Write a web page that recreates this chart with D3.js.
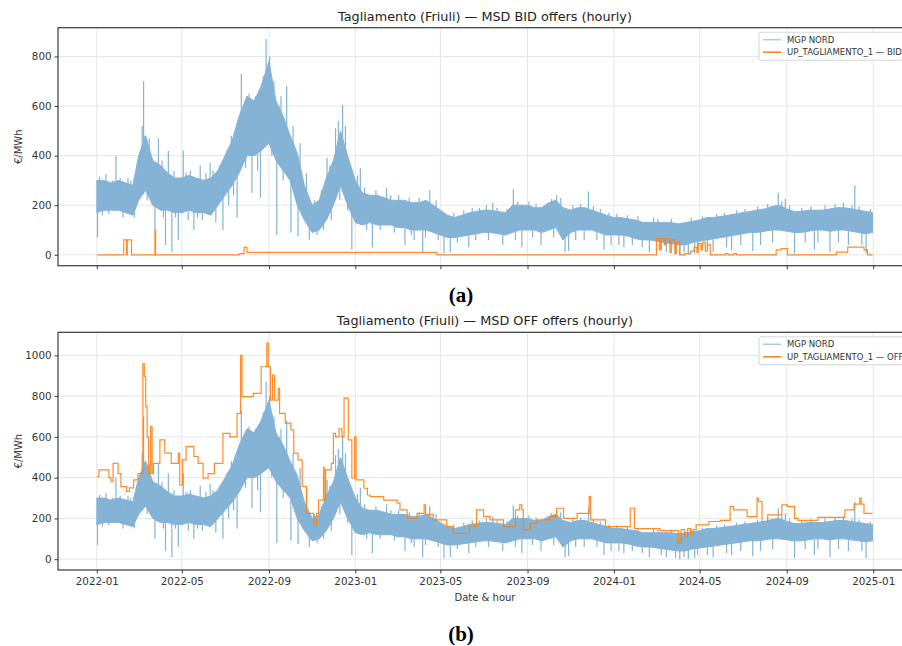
<!DOCTYPE html>
<html>
<head>
<meta charset="utf-8">
<script src="https://cdn.jsdelivr.net/npm/d3@7"></script>
<style>
  body { margin: 0; background: #fff; }
  svg { font-family: "DejaVu Sans", sans-serif; }
</style>
</head>
<body>
<svg id="chart" width="902" height="646"></svg>
<script>
//MGP NORD hourly price, read as a low / high envelope every ~10 days
var mgpDates = [
  "22-01-01","22-01-11","22-01-21","22-02-01","22-02-11","22-02-21","22-03-01","22-03-11","22-03-21",
  "22-04-01","22-04-11","22-04-21","22-05-01","22-05-11","22-05-21","22-06-01","22-06-11","22-06-21",
  "22-07-01","22-07-11","22-07-21","22-08-01","22-08-11","22-08-21","22-09-01","22-09-11","22-09-21",
  "22-10-01","22-10-11","22-10-21","22-11-01","22-11-11","22-11-21","22-12-01","22-12-11","22-12-21",
  "23-01-01","23-01-11","23-01-21","23-02-01","23-02-11","23-02-21","23-03-01","23-03-11","23-03-21",
  "23-04-01","23-04-11","23-04-21","23-05-01","23-05-11","23-05-21","23-06-01","23-06-11","23-06-21",
  "23-07-01","23-07-11","23-07-21","23-08-01","23-08-11","23-08-21","23-09-01","23-09-11","23-09-21",
  "23-10-01","23-10-11","23-10-21","23-11-01","23-11-11","23-11-21","23-12-01","23-12-11","23-12-21",
  "24-01-01","24-01-11","24-01-21","24-02-01","24-02-11","24-02-21","24-03-01","24-03-11","24-03-21",
  "24-04-01","24-04-11","24-04-21","24-05-01","24-05-11","24-05-21","24-06-01","24-06-11","24-06-21",
  "24-07-01","24-07-11","24-07-21","24-08-01","24-08-11","24-08-21","24-09-01","24-09-11","24-09-21",
  "24-10-01","24-10-11","24-10-21","24-11-01","24-11-11","24-11-21","24-12-01","24-12-11","24-12-21",
  "24-12-31"
];
var mgpLow = [
  170,180,180, 180,170,160, 220,260,200, 180,180,170, 170,180,170, 170,160,200,
  240,280,330, 400,400,420, 450,380,340, 300,200,140, 90,100,140, 200,280,200,
  130,120,130, 120,120,120, 110,110,100, 100,100,90, 80,70,70, 75,80,85,
  90,90,85, 80,90,100, 100,100,90, 100,110,60, 90,100,100, 100,90,80,
  80,80,75, 65,60,60, 55,50,45, 40,40,50, 55,60,65, 70,75,80,
  85,90,90, 95,100,100, 95,90,90, 95,100,100, 95,100,100, 95,90,85,
  90
];
var mgpHigh = [
  300,300,290, 300,290,280, 400,480,380, 360,330,310, 310,320,310, 300,310,340,
  400,460,560, 640,620,680, 780,620,560, 480,410,280, 200,220,310, 380,500,400,
  300,250,240, 240,230,220, 220,220,210, 210,220,200, 180,160,150, 160,170,175,
  180,180,175, 170,200,200, 200,190,190, 210,220,190, 180,190,190, 180,170,160,
  150,150,145, 140,130,130, 130,130,130, 125,130,135, 140,150,150, 155,160,165,
  170,175,180, 185,195,200, 185,175,175, 180,180,180, 185,190,190, 185,180,175,
  170
];
//single hours that stick far out of the envelope
var spikeDates = [
  "22-01-02","22-01-28","22-02-14","22-03-08","22-03-16","22-03-24","22-03-29","22-04-08","22-04-12",
  "22-04-17","22-04-26","22-05-03","22-05-18","22-05-27","22-06-10","22-06-28","22-07-18","22-07-24",
  "22-08-04","22-08-08","22-08-20","22-08-28","22-09-08","22-09-12","22-09-18","22-09-26","22-10-02",
  "22-10-12","22-10-28","22-11-22","22-12-04","22-12-14","22-12-27","23-01-08","23-01-25","23-02-14",
  "23-03-12","23-03-25","23-04-06","23-04-16","23-05-06","23-05-15","23-06-10","23-07-14","23-07-28",
  "23-08-12","23-08-24","23-09-20","23-10-12","23-10-24","23-10-29","23-11-26","23-12-18","24-01-15",
  "24-02-20","24-03-15","24-03-28","24-04-03","24-04-15","24-04-24","24-05-20","24-06-15","24-07-15",
  "24-08-20","24-08-30","24-09-12","24-10-10","24-11-01","24-12-06","24-12-22"
];
var spikeValues = [
  70,400,310,700,470,100,470,40,420,
  10,60,420,100,360,370,100,150,730,
  650,250,230,870,700,80,640,680,90,
  75,60,390,510,605,20,350,30,270,
  40,60,10,260,5,10,30,210,40,
  265,30,40,240,10,15,255,20,30,
  10,10,5,0,0,5,10,20,15,
  250,225,5,20,10,280,5
];
//smaller day-to-day excursions around the envelope
var bumpDates = [
  "22-01-05","22-01-09","22-01-14","22-01-18","22-01-23","22-02-03","22-02-07","22-02-18","22-02-23",
  "22-02-26","22-03-04","22-03-06","22-03-10","22-03-13","22-03-20","22-04-03","22-04-05","22-04-20",
  "22-04-22","22-05-07","22-05-10","22-05-13","22-05-23","22-05-30","22-06-04","22-06-14","22-06-18",
  "22-06-23","22-07-03","22-07-06","22-07-10","22-07-13","22-07-28","22-07-30","22-08-13","22-08-16",
  "22-08-24","22-09-02","22-09-05","22-09-15","22-09-21","22-10-05","22-10-08","22-10-15","22-10-19",
  "22-10-24","22-11-04","22-11-08","22-11-14","22-11-17","22-11-26","22-11-28","22-12-08","22-12-10",
  "22-12-18","22-12-21",
  "23-01-04","23-01-14","23-01-17","23-01-30","23-02-05","23-02-20","23-02-25","23-03-03","23-03-18",
  "23-03-21","23-04-01","23-04-10","23-04-25","23-04-28","23-05-20","23-05-25","23-06-03","23-06-15",
  "23-06-20","23-06-25","23-07-05","23-07-08","23-07-20","23-08-03","23-08-15","23-08-18","23-09-03",
  "23-09-08","23-09-13","23-09-27","23-10-05","23-10-08","23-10-18","23-11-04","23-11-08","23-11-15",
  "23-11-20","23-12-03","23-12-08","23-12-13","23-12-25","23-12-28",
  "24-01-05","24-01-08","24-01-20","24-01-27","24-02-04","24-02-10","24-02-26","24-03-03","24-03-08",
  "24-03-22","24-04-09","24-04-19","24-04-28","24-05-05","24-05-12","24-05-25","24-06-05","24-06-08",
  "24-06-22","24-06-28","24-07-04","24-07-22","24-07-26","24-08-05","24-08-12","24-08-25","24-09-05",
  "24-09-22","24-09-27","24-10-05","24-10-15","24-10-25","24-11-08","24-11-13","24-11-20","24-11-27",
  "24-12-02","24-12-12","24-12-16","24-12-28"
];
var bumpValues = [
  315,160,325,165,300,310,150,300,150,
  330,420,520,480,220,390,380,150,340,
  150,330,140,340,150,140,330,340,130,
  360,420,200,480,240,600,350,640,340,
  720,800,400,600,300,520,250,450,150,
  330,220,80,260,100,360,140,540,220,
  520,180,
  320,270,100,260,100,240,90,240,230,
  80,230,70,220,60,170,50,180,190,
  60,190,200,60,190,185,60,215,215,
  70,205,200,225,70,230,200,60,205,
  60,195,60,185,170,40,
  165,40,160,40,155,30,150,145,20,
  145,10,150,20,155,20,165,170,30,
  180,40,185,195,40,205,50,215,200,
  190,50,195,50,200,205,50,210,40,
  200,195,40,185
];
//UP_TAGLIAMENTO_1 BID offer price (step changes)
var bidDates = [
  "22-01-01","22-02-08","22-02-12","22-02-13","22-02-19","22-03-24","22-03-25","22-07-21","22-07-28",
  "22-08-01","23-04-26","24-03-01","24-03-05","24-03-07","24-03-12","24-03-14","24-03-20","24-03-22",
  "24-03-27","24-03-29","24-04-03","24-04-10","24-04-18","24-04-23","24-04-27","24-04-29","24-05-03",
  "24-05-05","24-05-09","24-05-12","24-05-16","24-06-06","24-06-10","24-06-18","24-06-22","24-08-17",
  "24-08-24","24-09-02","24-11-10","24-11-26","24-12-19","24-12-24","24-12-31"
];
var bidValues = [
  0,60,0,60,0,100,0,5,30,
  10,0,65,20,65,40,65,10,60,
  5,50,0,5,15,30,10,45,20,
  50,15,40,0,5,0,5,0,20,
  25,0,11,31,20,0,0
];
//UP_TAGLIAMENTO_1 OFF offer price (step changes)
var offDates = [
  "22-01-01","22-01-04","22-01-18","22-01-21","22-01-24","22-01-31","22-02-04","22-02-12","22-02-16",
  "22-02-22","22-02-28","22-03-07","22-03-09","22-03-11","22-03-13","22-03-15","22-03-18","22-03-20",
  "22-03-22","22-03-31","22-04-07","22-04-16","22-04-26","22-04-28","22-05-02","22-05-07","22-05-18",
  "22-05-24","22-05-31","22-06-07","22-06-16","22-06-28","22-07-08","22-07-18","22-07-23","22-07-25",
  "22-08-10","22-08-21","22-08-29","22-08-31","22-09-03","22-09-06","22-09-09","22-09-14","22-09-16",
  "22-09-24","22-10-02","22-10-06","22-10-12","22-10-18","22-10-24","22-11-03","22-11-07","22-11-10",
  "22-11-17","22-11-18","22-11-20","22-11-28","22-12-01","22-12-04","22-12-09","22-12-13","22-12-16",
  "22-12-22","22-12-27","22-12-31","23-01-02","23-01-13","23-01-18","23-01-22","23-02-10","23-03-01",
  "23-03-05","23-03-15","23-03-29","23-04-08","23-04-10","23-04-21","23-05-10","23-05-19","23-06-11",
  "23-06-21","23-07-01","23-07-10","23-07-29","23-08-15","23-08-21","23-08-24","23-08-26","23-09-05",
  "23-09-14","23-10-03","23-10-12","23-10-22","23-11-10","23-11-27","23-11-29","23-12-20","24-01-24",
  "24-01-30","24-03-06","24-04-01","24-04-05","24-04-10","24-04-14","24-04-18","24-04-22","24-04-26",
  "24-05-14","24-05-30","24-06-13","24-06-18","24-07-07","24-07-21","24-07-23","24-07-28","24-08-05",
  "24-08-25","24-09-02","24-09-12","24-09-17","24-10-15","24-11-22","24-12-05","24-12-13","24-12-15",
  "24-12-19","24-12-31"
];
var offValues = [
  405,438,400,380,470,420,356,332,350,
  389,420,960,895,748,600,420,650,420,
  470,585,520,470,520,364,487,552,503,
  470,397,420,470,617,600,715,1000,797,
  813,944,1060,944,780,903,780,838,715,
  667,634,520,487,356,225,168,225,290,
  450,290,438,470,617,600,640,600,790,
  585,397,600,389,348,315,307,290,275,
  242,200,225,266,220,193,160,127,160,
  242,209,193,160,242,266,242,144,176,
  193,210,250,200,225,307,193,160,250,
  150,140,78,145,110,150,120,145,168,
  185,190,258,242,209,300,283,185,217,
  266,258,200,190,205,242,270,300,270,
  225,225
];
var yTicksTop = [0, 200, 400, 600, 800];
var yTicksBottom = [0, 200, 400, 600, 800, 1000];

//Colors
var blue = "#84b3d6";
var orange = "#ff7f0e";

var parseDate = d3.timeParse("%y-%m-%d");
var mgp = mgpDates.map(function (d, i) {
  return { date: parseDate(d), lo: mgpLow[i], hi: mgpHigh[i] };
});
var spikes = spikeDates
  .map(function (d, i) {
    return { date: parseDate(d), value: spikeValues[i] };
  })
  .concat(
    bumpDates.map(function (d, i) {
      return { date: parseDate(d), value: bumpValues[i] };
    })
  );
var bid = bidDates.map(function (d, i) {
  return { date: parseDate(d), value: bidValues[i] };
});
var off = offDates.map(function (d, i) {
  return { date: parseDate(d), value: offValues[i] };
});

var svg = d3.select("#chart");

//x scale with matplotlib-like 5% margins around the data range
var t0 = new Date(2022, 0, 1), t1 = new Date(2024, 11, 31, 23);
var pad = (t1 - t0) * 0.05;
var x = d3
  .scaleTime()
  .domain([new Date(+t0 - pad), new Date(+t1 + pad)])
  .range([58, 912]);

var panels = [
  {
    title: "Tagliamento (Friuli) \u2014 MSD BID offers (hourly)",
    top: 27.7, bottom: 265.7, domain: [-44, 916], ticks: yTicksTop,
    offer: bid, offerName: "UP_TAGLIAMENTO_1 \u2014 BID", xLabels: false,
    tag: "(a)", tagY: 302
  },
  {
    title: "Tagliamento (Friuli) \u2014 MSD OFF offers (hourly)",
    top: 332.3, bottom: 570, domain: [-53, 1113], ticks: yTicksBottom,
    offer: off, offerName: "UP_TAGLIAMENTO_1 \u2014 OFF", xLabels: true,
    tag: "(b)", tagY: 641
  }
];

var xTicks = d3.timeMonth.every(4).range(new Date(2022, 0, 1), new Date(2025, 0, 2));

panels.forEach(function (p, k) {
  var y = d3.scaleLinear().domain(p.domain).range([p.bottom, p.top]);
  var g = svg.append("g");

  //clip for the data
  svg
    .append("clipPath")
    .attr("id", "clip" + k)
    .append("rect")
    .attr("x", 58)
    .attr("y", p.top)
    .attr("width", 854)
    .attr("height", p.bottom - p.top);

  //grid
  g.selectAll(".gx")
    .data(xTicks)
    .enter()
    .append("line")
    .attr("x1", (d) => x(d))
    .attr("x2", (d) => x(d))
    .attr("y1", p.top)
    .attr("y2", p.bottom)
    .attr("stroke", "#e6e6e6")
    .attr("stroke-width", 1);
  g.selectAll(".gy")
    .data(p.ticks)
    .enter()
    .append("line")
    .attr("x1", 58)
    .attr("x2", 912)
    .attr("y1", (d) => y(d))
    .attr("y2", (d) => y(d))
    .attr("stroke", "#e6e6e6")
    .attr("stroke-width", 1);

  var plot = g.append("g").attr("clip-path", "url(#clip" + k + ")");

  //MGP NORD envelope
  var area = d3
    .area()
    .x((d) => x(d.date))
    .y0((d) => y(d.lo))
    .y1((d) => y(d.hi));
  plot
    .append("path")
    .datum(mgp)
    .attr("d", area)
    .attr("fill", blue)
    .attr("stroke", blue)
    .attr("stroke-width", 1)
    .attr("stroke-linejoin", "round");

  //hours going out of the envelope
  var bis = d3.bisector((d) => d.date).left;
  plot
    .selectAll(".spike")
    .data(spikes)
    .enter()
    .append("line")
    .attr("x1", (d) => x(d.date))
    .attr("x2", (d) => x(d.date))
    .attr("y1", function (d) {
      var i = Math.min(bis(mgp, d.date), mgp.length - 1);
      var m = mgp[i];
      return y(m.lo + (m.hi - m.lo) * 0.5);
    })
    .attr("y2", (d) => y(d.value))
    .attr("stroke", blue)
    .attr("stroke-width", 1.2);

  //offer line
  var line = d3
    .line()
    .x((d) => x(d.date))
    .y((d) => y(d.value))
    .curve(d3.curveStepAfter);
  plot
    .append("path")
    .datum(p.offer)
    .attr("d", line)
    .attr("fill", "none")
    .attr("stroke", orange)
    .attr("stroke-width", 1.2)
    .attr("opacity", 0.9);

  //frame
  g.append("rect")
    .attr("x", 58)
    .attr("y", p.top)
    .attr("width", 854)
    .attr("height", p.bottom - p.top)
    .attr("fill", "none")
    .attr("stroke", "#3a3a3a")
    .attr("stroke-width", 1.2);

  //y axis
  var ya = g
    .append("g")
    .attr("transform", "translate(58,0)")
    .call(
      d3
        .axisLeft(y)
        .tickValues(p.ticks)
        .tickFormat(d3.format("d"))
        .tickSize(3.5)
        .tickPadding(3)
    );
  ya.select(".domain").remove();
  ya.selectAll("line").attr("stroke", "#3a3a3a");
  ya.selectAll("text").attr("fill", "#333").style("font-size", "10.3px").style("font-family", "DejaVu Sans");

  //x axis
  var xa = g
    .append("g")
    .attr("transform", "translate(0," + p.bottom + ")")
    .call(
      d3
        .axisBottom(x)
        .tickValues(xTicks)
        .tickSize(3.5)
        .tickPadding(4)
        .tickFormat(p.xLabels ? d3.timeFormat("%Y-%m") : "")
    );
  xa.select(".domain").remove();
  xa.selectAll("line").attr("stroke", "#3a3a3a");
  xa.selectAll("text").attr("fill", "#333").style("font-size", "10.3px").style("font-family", "DejaVu Sans");

  //titles
  svg
    .append("text")
    .attr("x", 485)
    .attr("y", p.top - 7)
    .attr("text-anchor", "middle")
    .style("font-size", "12.8px")
    .attr("fill", "#222")
    .text(p.title);

  svg
    .append("text")
    .attr("transform", "translate(22," + (p.top + p.bottom) / 2 + ") rotate(-90)")
    .attr("text-anchor", "middle")
    .style("font-size", "10px")
    .attr("fill", "#333")
    .text("\u20ac/MWh");

  //legend
  var lg = svg.append("g").attr("transform", "translate(759," + (p.top + 4.5) + ")");
  lg.append("rect")
    .attr("width", 170)
    .attr("height", 28)
    .attr("rx", 2)
    .attr("fill", "#fff")
    .attr("fill-opacity", 0.85)
    .attr("stroke", "#d6d6d6");
  var entries = [
    { name: "MGP NORD", color: "#a9cbe4" },
    { name: p.offerName, color: orange }
  ];
  entries.forEach(function (e, i) {
    lg.append("line")
      .attr("x1", 4)
      .attr("x2", 22)
      .attr("y1", 7.5 + i * 12.5)
      .attr("y2", 7.5 + i * 12.5)
      .attr("stroke", e.color)
      .attr("stroke-width", 1.5);
    lg.append("text")
      .attr("x", 28)
      .attr("y", 10.5 + i * 12.5)
      .style("font-size", "8.5px")
      .attr("fill", "#333")
      .text(e.name);
  });

  //sub-figure tag
  svg
    .append("text")
    .attr("x", 461)
    .attr("y", p.tagY)
    .attr("text-anchor", "middle")
    .style("font-family", "'Liberation Serif', 'DejaVu Serif', serif")
    .style("font-size", "21px")
    .style("font-weight", "bold")
    .attr("fill", "#000")
    .text(p.tag);
});

//x axis label
svg
  .append("text")
  .attr("x", 485)
  .attr("y", 601)
  .attr("text-anchor", "middle")
  .style("font-size", "10px")
  .attr("fill", "#333")
  .text("Date & hour");
</script>
</body>
</html>
